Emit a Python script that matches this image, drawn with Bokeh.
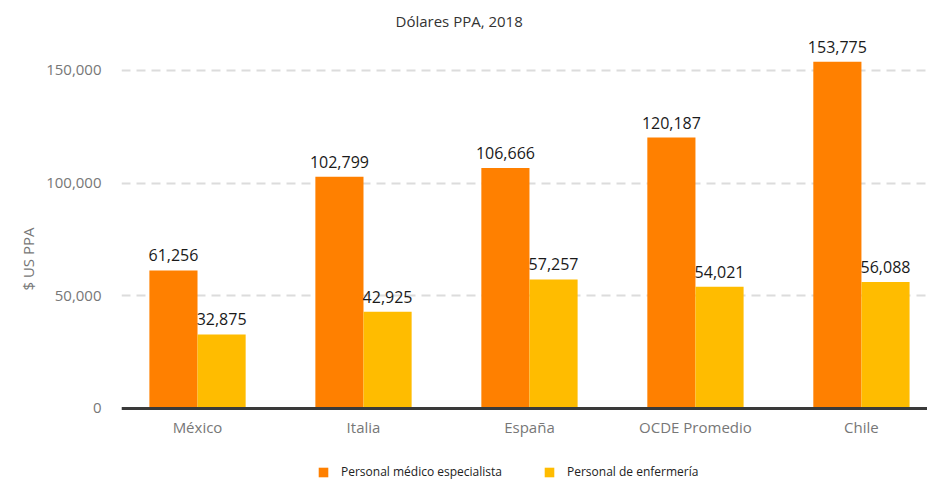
from bokeh.plotting import figure
from bokeh.models import (ColumnDataSource, LabelSet, Legend, LegendItem, Span,
                          Range1d, FixedTicker, NumeralTickFormatter)
from bokeh.core.properties import value
from bokeh.embed import file_html
from bokeh.resources import INLINE

categories = ["México", "Italia", "España", "OCDE Promedio", "Chile"]
especialista = [61256, 102799, 106666, 120187, 153775]
enfermeria = [32875, 42925, 57257, 54021, 56088]
series_names = ["Personal médico especialista", "Personal de enfermería"]
y_ticks = [0, 50000, 100000, 150000]

ORANGE = "#FF8000"
YELLOW = "#FFBC00"
FONT = "Open Sans"

xs = list(range(len(categories)))
bw = 0.29
src1 = ColumnDataSource(dict(x=[v - bw / 2 for v in xs], y=especialista,
                             lab=[f"{v:,}" for v in especialista]))
src2 = ColumnDataSource(dict(x=[v + bw / 2 for v in xs], y=enfermeria,
                             lab=[f"{v:,}" for v in enfermeria]))
src_cat = ColumnDataSource(dict(x=xs, y=[0] * len(xs), lab=categories))

p = figure(width=927, height=481, output_backend="svg", toolbar_location=None,
           x_range=Range1d(-0.458, 4.398), y_range=Range1d(-32380, 165000),
           min_border_left=121, min_border_right=0, min_border_top=36,
           min_border_bottom=0)
p.outline_line_color = None
p.background_fill_color = "white"
p.border_fill_color = "white"

p.title.text = "Dólares PPA, 2018"
p.title.align = "left"
p.title.offset = 274
p.title.vertical_align = "middle"
p.title.text_font = FONT
p.title.text_font_size = "15px"
p.title.text_font_style = "normal"
p.title.text_color = "#333333"
p.title.standoff = 10

r1 = p.vbar(x="x", top="y", width=bw, source=src1, fill_color=ORANGE, line_color=None)
r2 = p.vbar(x="x", top="y", width=bw, source=src2, fill_color=YELLOW, line_color=None)

for s in (src1, src2):
    p.add_layout(LabelSet(x="x", y="y", text="lab", source=s, text_align="center",
                          text_baseline="bottom", y_offset=9, text_font=value(FONT),
                          text_font_size="16px", text_color="#1a1a1a"))

# category axis (labels under the zero line)
p.xaxis.visible = False
p.add_layout(Span(location=0, dimension="width", line_color="#3a3a3a", line_width=3))
p.add_layout(LabelSet(x="x", y="y", text="lab", source=src_cat, text_align="center",
                      text_baseline="middle", y_offset=-19, text_font=value(FONT),
                      text_font_size="15px", text_color="#777777"))

p.yaxis.ticker = FixedTicker(ticks=y_ticks)
p.yaxis.formatter = NumeralTickFormatter(format="0,0")
p.yaxis.axis_line_color = None
p.yaxis.major_tick_line_color = None
p.yaxis.minor_tick_line_color = None
p.yaxis.major_label_text_font = FONT
p.yaxis.major_label_text_font_size = "15px"
p.yaxis.major_label_text_color = "#777777"
p.yaxis.major_label_standoff = 14
p.yaxis.axis_label = "$ US PPA"
p.yaxis.axis_label_text_font = FONT
p.yaxis.axis_label_text_font_size = "15px"
p.yaxis.axis_label_text_font_style = "normal"
p.yaxis.axis_label_text_color = "#777777"
p.yaxis.axis_label_standoff = 5

p.xgrid.grid_line_color = None
p.ygrid.grid_line_color = "#dcdcdc"
p.ygrid.grid_line_width = 2
p.ygrid.grid_line_dash = "9 6"
p.ygrid.level = "underlay"

legend = Legend(items=[LegendItem(label=series_names[0], renderers=[r1]),
                       LegendItem(label=series_names[1], renderers=[r2])],
                orientation="horizontal", location=(196, 1),
                label_text_font=FONT, label_text_font_size="12px",
                label_text_color="#222222", glyph_width=12, glyph_height=12,
                label_height=14, spacing=41, label_standoff=12,
                border_line_color=None, background_fill_alpha=0, margin=0, padding=0)
p.add_layout(legend, "center")

open("out.html", "w").write(file_html(p, INLINE))
